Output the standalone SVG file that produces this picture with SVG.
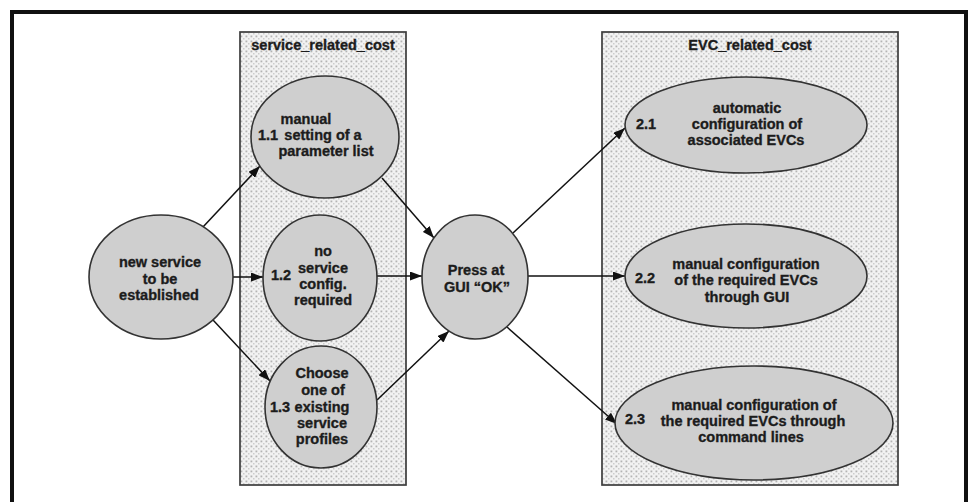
<svg xmlns="http://www.w3.org/2000/svg" width="970" height="502" viewBox="0 0 970 502">
<style>
.t{font-family:"Liberation Sans",Arial,sans-serif;font-weight:bold;font-size:14.5px;fill:#1c1c1c;stroke:#1c1c1c;stroke-width:0.35;text-anchor:middle}
.n{text-anchor:start}
.node{fill:#cfcfcf;stroke:#333;stroke-width:1.6}
.box{fill:url(#dots);stroke:#3c3c3c;stroke-width:1.7}
.edge{stroke:#111;stroke-width:1.5;fill:none;marker-end:url(#arr)}
</style>
<defs>
<pattern id="dots" width="5" height="5" patternUnits="userSpaceOnUse">
<rect width="5" height="5" fill="#f2f2f2"/>
<rect x="0.5" y="0.5" width="1.8" height="1.8" fill="#b4b4b4"/>
<rect x="3" y="3" width="1.5" height="1.5" fill="#cccccc"/>
</pattern>
<marker id="arr" markerUnits="userSpaceOnUse" markerWidth="12" markerHeight="9" refX="12" refY="4.5" orient="auto">
<path d="M0,0 L12,4.5 L0,9 z" fill="#111"/>
</marker>
</defs>
<rect width="970" height="502" fill="#fff"/>
<g id="frame" fill="none" stroke="#111" stroke-width="4">
<path d="M12,502 L12,12 L966,12 L966,502"/>
</g>
<g id="service_related_cost">
<rect class="box" x="240" y="32" width="166" height="453"/>
<text class="t" x="323" y="50">service_related_cost</text>
</g>
<g id="EVC_related_cost">
<rect class="box" x="602" y="32" width="296" height="453"/>
<text class="t" x="750" y="50">EVC_related_cost</text>
</g>
<g id="connectors">
<line class="edge" x1="203" y1="227" x2="260" y2="166"/>
<line class="edge" x1="233" y1="277" x2="263" y2="277"/>
<line class="edge" x1="213" y1="320" x2="270" y2="381"/>
<line class="edge" x1="382" y1="178" x2="434" y2="238"/>
<line class="edge" x1="377" y1="276" x2="422" y2="276"/>
<line class="edge" x1="377" y1="400" x2="449" y2="331"/>
<line class="edge" x1="513" y1="233" x2="625" y2="128"/>
<line class="edge" x1="528" y1="276" x2="625" y2="276"/>
<line class="edge" x1="507" y1="327" x2="617" y2="424"/>
</g>
<g id="new_service">
<ellipse class="node" cx="161" cy="277" rx="72" ry="62"/>
<text class="t" x="160" y="267">new service</text>
<text class="t" x="160" y="284">to be</text>
<text class="t" x="159" y="300">established</text>
</g>
<g id="n1_1">
<ellipse class="node" cx="325" cy="137" rx="74" ry="61"/>
<text class="t" x="306" y="124">manual</text>
<text class="t n" x="258" y="140">1.1</text>
<text class="t" x="323" y="140">setting of a</text>
<text class="t" x="326" y="156">parameter list</text>
</g>
<g id="n1_2">
<ellipse class="node" cx="320" cy="278" rx="57" ry="63"/>
<text class="t" x="323" y="256">no</text>
<text class="t" x="323" y="273">service</text>
<text class="t n" x="271" y="280">1.2</text>
<text class="t" x="323" y="289">config.</text>
<text class="t" x="323" y="305">required</text>
</g>
<g id="n1_3">
<ellipse class="node" cx="321" cy="407" rx="56" ry="61"/>
<text class="t" x="322" y="378">Choose</text>
<text class="t" x="323" y="395">one of</text>
<text class="t n" x="270" y="412">1.3</text>
<text class="t" x="322" y="412">existing</text>
<text class="t" x="322" y="428">service</text>
<text class="t" x="322" y="444">profiles</text>
</g>
<g id="press_ok">
<ellipse class="node" cx="475" cy="277" rx="53" ry="62"/>
<text class="t" x="476" y="275">Press at</text>
<text class="t" x="477" y="292">GUI “OK”</text>
</g>
<g id="n2_1">
<ellipse class="node" cx="746" cy="125" rx="121" ry="48"/>
<text class="t" x="747" y="113">automatic</text>
<text class="t n" x="636" y="129">2.1</text>
<text class="t" x="747" y="129">configuration of</text>
<text class="t" x="746" y="145">associated EVCs</text>
</g>
<g id="n2_2">
<ellipse class="node" cx="746" cy="276" rx="121" ry="52"/>
<text class="t" x="746" y="269">manual configuration</text>
<text class="t n" x="635" y="283">2.2</text>
<text class="t" x="746" y="285">of the required EVCs</text>
<text class="t" x="747" y="302">through GUI</text>
</g>
<g id="n2_3">
<ellipse class="node" cx="754" cy="423" rx="139" ry="57"/>
<text class="t" x="754" y="410">manual configuration of</text>
<text class="t n" x="625" y="424">2.3</text>
<text class="t" x="753" y="426">the required EVCs through</text>
<text class="t" x="751" y="442">command lines</text>
</g>
</svg>
